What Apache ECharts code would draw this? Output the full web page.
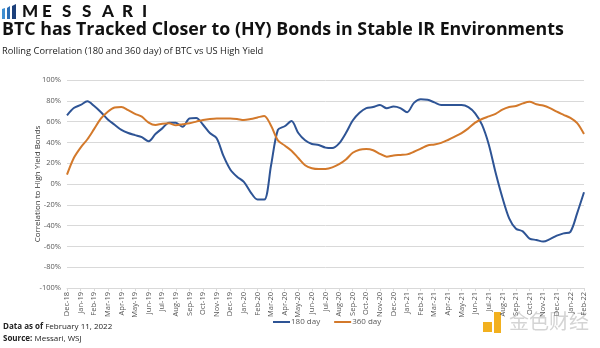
<!DOCTYPE html>
<html><head><meta charset="utf-8">
<script src="https://cdn.jsdelivr.net/npm/echarts@6/dist/echarts.min.js"></script>
<style>html,body{margin:0;padding:0;background:#fff}#c{width:600px;height:348px}</style>
</head><body><div id="c"></div>
<script>
const months = ['Dec-18','Jan-19','Feb-19','Mar-19','Apr-19','May-19','Jun-19','Jul-19','Aug-19','Sep-19','Oct-19','Nov-19','Dec-19','Jan-20','Feb-20','Mar-20','Apr-20','May-20','Jun-20','Jul-20','Aug-20','Sep-20','Oct-20','Nov-20','Dec-20','Jan-21','Feb-21','Mar-21','Apr-21','May-21','Jun-21','Jul-21','Aug-21','Sep-21','Oct-21','Nov-21','Dec-21','Jan-22','Feb-22'];
// half-month sampling
const corr180 = [66,73,76,79.5,75,69,62,57,52,49,47,45,41,48,53.5,59,59,55,63,63.5,57,49,44,27,14,7,2,-8,-15,-15,18,52,55.5,60.5,49,42,38.5,37.5,35,34.5,39,49,61,68.5,73,74,76,72.8,74.5,73,69,78,81.4,81,78.5,76,76,76,76,74,68,57,38,11,-13,-33,-43,-45.5,-52.5,-53.8,-55.4,-53,-49.7,-47.5,-46,-28,-8];
const corr360 = [9,25,35,43,53,63,69.5,73.5,74,71,67.5,64.7,59,56.7,58,58.3,56.5,57.5,58.5,60,61.5,62.5,63,63,63,62.5,61.5,62.5,64,65.5,56,42,37,32,25,18,15.2,14.4,14.5,16,19,23.5,30,33,33.6,32.5,29,26.3,27.5,28,28.5,31,34,37,38,39.5,42.3,45.5,49,53.5,59,62.5,65,67.5,71.5,74,75,77.5,79,76.6,75.5,73,69.5,66.5,63.5,58.5,48];
const seriesNames = ['180 day','360 day'];
const categories = [];
months.forEach((m,i)=>{categories.push(m); if(i<months.length-1) categories.push('');});

const chart = echarts.init(document.getElementById('c'));
const logoLetters = 'MESSARI'.split('');
const graphics = [];
logoLetters.forEach((ch,i)=>{
  graphics.push({type:'text',left:22+i*20,top:3,style:{text:ch,fontFamily:'Lato',fontWeight:900,fontSize:17,fill:'#111'}});
});
const rich = {b:{fontWeight:'bold',fontFamily:'Open Sans',fontSize:8,fill:'#222'},n:{fontFamily:'Open Sans',fontSize:8,fill:'#222'}};
graphics.push(
  {type:'polygon',shape:{points:[[2,9],[5,8],[5,19],[2,19]]},style:{fill:'#3f8fd2'}},
  {type:'polygon',shape:{points:[[7,8],[10,6],[10,19],[7,19]]},style:{fill:'#2a6db5'}},
  {type:'polygon',shape:{points:[[12,6],[16,4],[16,19],[12,19]]},style:{fill:'#1b3f7a'}},
  {type:'text',left:2,top:21,style:{text:'BTC has Tracked Closer to (HY) Bonds in Stable IR Environments',fontFamily:'Open Sans',fontWeight:'bold',fontSize:17.8,fill:'#111'}},
  {type:'text',left:2,top:47,style:{text:'Rolling Correlation (180 and 360 day) of BTC vs US High Yield',fontFamily:'Open Sans',fontSize:9.3,fill:'#222'}},
  {type:'text',left:3,top:323,style:{rich:rich,text:'{b|Data as of }{n|February 11, 2022}'}},
  {type:'text',left:3,top:335,style:{rich:rich,text:'{b|Source: }{n|Messari, WSJ}'}},
  {type:'rect',shape:{x:483,y:322,width:9,height:10},style:{fill:'#f2b01e'}},
  {type:'polygon',shape:{points:[[494,312],[501,312],[501,333],[494,333]]},style:{fill:'#f2b01e'}},
  {type:'text',left:509,top:311,style:{text:'金色财经',fontFamily:'Noto Sans CJK SC',fontSize:20,fill:'#d4d4d4'}}
);

chart.setOption({
  animation:false,
  graphic:graphics,
  grid:{left:67,right:16,top:80,bottom:60},
  legend:{top:313,left:268,itemWidth:17,itemHeight:2,itemGap:14,icon:'rect',
    textStyle:{fontFamily:'Open Sans',fontSize:8,color:'#595959',padding:[0,0,0,-4]},data:seriesNames},
  xAxis:[{type:'category',data:categories,boundaryGap:false,
    axisLine:{show:false},axisTick:{show:false},splitLine:{show:false},
    axisLabel:{rotate:90,interval:(i)=>i%2===0,fontFamily:'Open Sans',fontSize:7.5,color:'#595959',margin:4}},
   {type:'category',data:categories,boundaryGap:false,position:'bottom',
    axisLine:{show:true,onZero:true,lineStyle:{color:'#d9d9d9',width:1}},
    axisTick:{show:true,interval:(i)=>i%2===0,length:3,inside:false,lineStyle:{color:'#d9d9d9'}},
    axisLabel:{show:false},splitLine:{show:false}}],
  yAxis:{type:'value',min:-100,max:100,interval:20,
    name:'Correlation to High Yield Bonds',nameLocation:'middle',nameGap:25,nameRotate:90,nameMoveOverlap:false,
    nameTextStyle:{fontFamily:'Open Sans',fontSize:8,color:'#333'},
    axisLine:{show:false},axisTick:{show:false},
    axisLabel:{formatter:'{value}%',fontFamily:'Open Sans',fontSize:7.5,color:'#595959',margin:6},
    splitLine:{lineStyle:{color:'#d9d9d9',width:1}}},
  series:[
    {name:seriesNames[0],type:'line',data:corr180,symbol:'none',smooth:0.3,lineStyle:{color:'#2E5495',width:2},itemStyle:{color:'#2E5495'}},
    {name:seriesNames[1],type:'line',data:corr360,symbol:'none',smooth:0.3,lineStyle:{color:'#D3792B',width:2},itemStyle:{color:'#D3792B'}}
  ]
});
</script></body></html>
